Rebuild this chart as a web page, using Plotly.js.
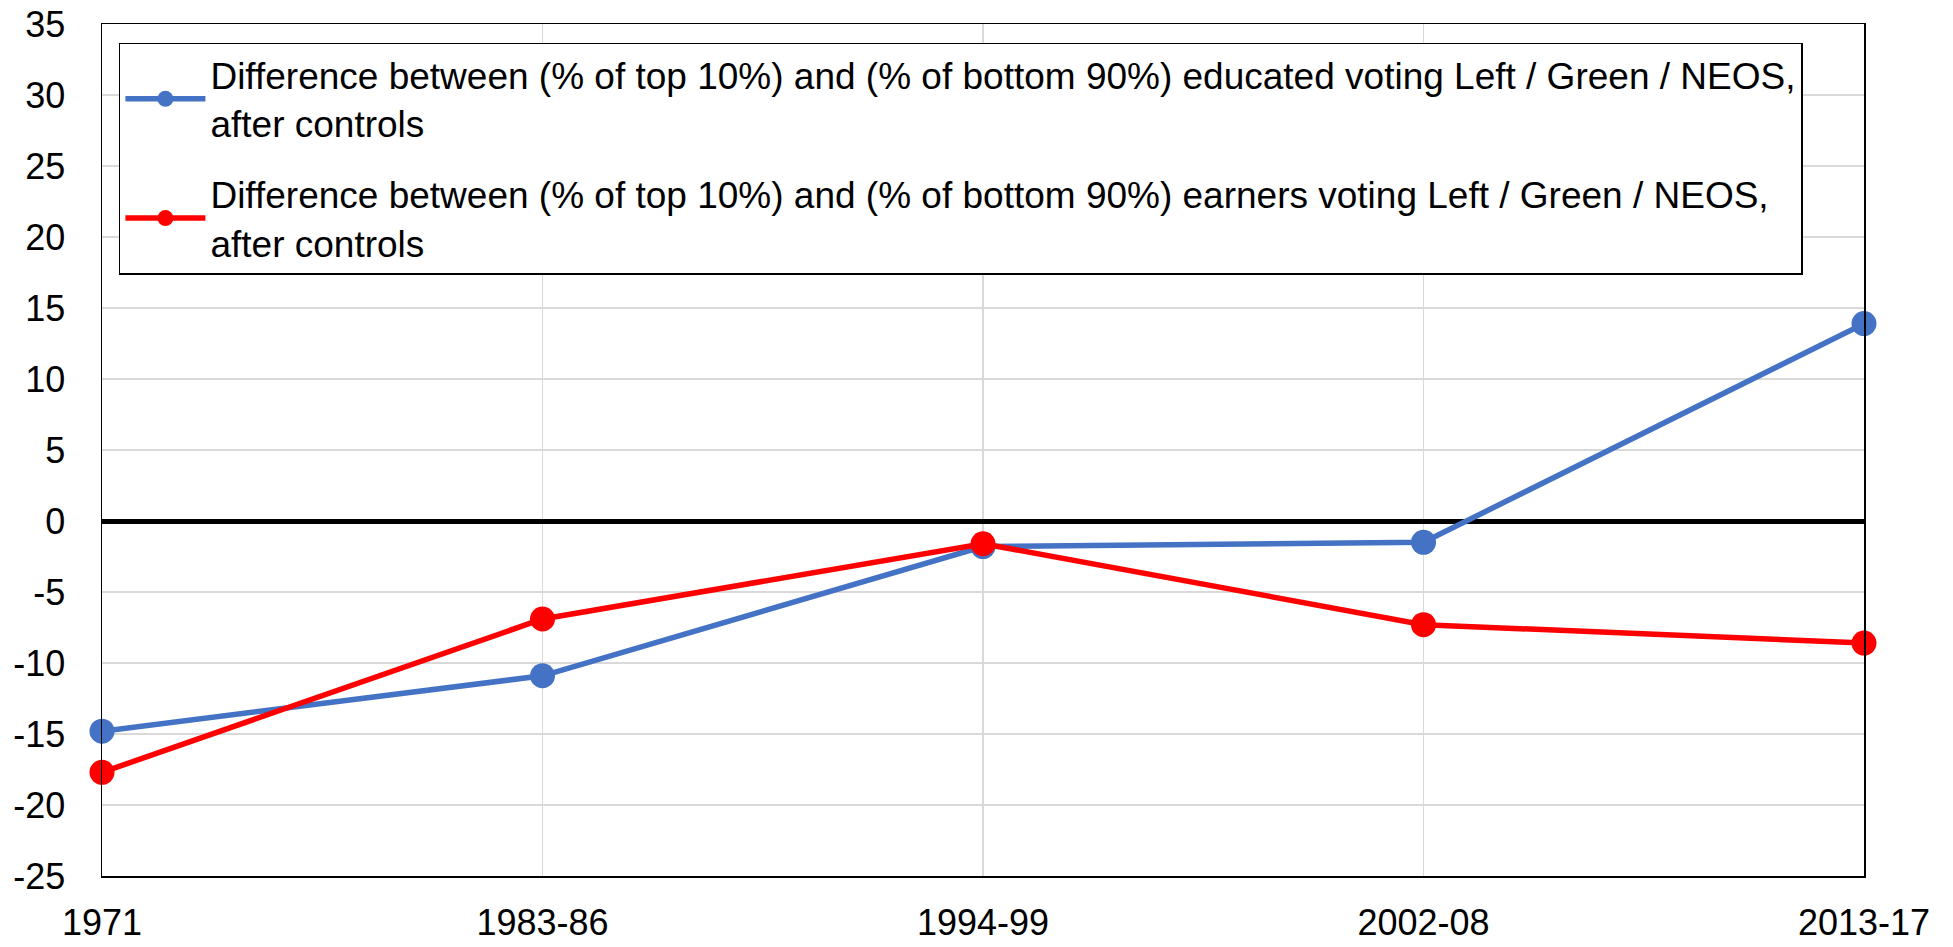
<!DOCTYPE html>
<html>
<head>
<meta charset="utf-8">
<script src="https://cdn.plot.ly/plotly-3.0.1.min.js"></script>
<style>
  html, body { margin: 0; padding: 0; background: #fff; }
  #chart { width: 1953px; height: 947px; }
</style>
</head>
<body>
<div id="chart"></div>
<script>
// périodes électorales
var periodes = ['1971', '1983-86', '1994-99', '2002-08', '2013-17'];

// écart diplômés (top 10% vs bottom 90%)
var ecartDiplomes = [-14.8, -10.9, -1.8, -1.5, 13.9];
// écart revenus (top 10% vs bottom 90%)
var ecartRevenus = [-17.7, -6.9, -1.6, -7.3, -8.6];

// graduations de l'axe Y
var graduationsY = [-25, -20, -15, -10, -5, 0, 5, 10, 15, 20, 25, 30, 35];

var nomDiplomes = 'Difference between (% of top 10%) and (% of bottom 90%) educated voting Left / Green / NEOS,<br>after controls';
var nomRevenus = 'Difference between (% of top 10%) and (% of bottom 90%) earners voting Left / Green / NEOS,<br>after controls';

var police = 'Liberation Sans, Arial, sans-serif';

var trace1 = {
    x: periodes,
    y: ecartDiplomes,
    type: 'scatter',
    mode: 'lines+markers',
    name: nomDiplomes,
    legendgroup: 'a',
    line: { color: '#4472C4', width: 5.5 },
    marker: { color: '#4472C4', size: 25 },
    cliponaxis: false
};

var trace2 = {
    x: periodes,
    y: ecartRevenus,
    type: 'scatter',
    mode: 'lines+markers',
    name: nomRevenus,
    legendgroup: 'b',
    line: { color: '#FF0000', width: 5.5 },
    marker: { color: '#FF0000', size: 25 },
    cliponaxis: false
};

var layout = {
    width: 1953,
    height: 947,
    margin: { l: 102, r: 89, t: 24, b: 71 },
    paper_bgcolor: '#fff',
    plot_bgcolor: '#fff',
    font: { family: police, size: 36, color: '#000' },
    showlegend: true,
    legend: {
        x: 0.0096, y: 0.978, xanchor: 'left', yanchor: 'top',
        bgcolor: '#fff', bordercolor: '#000', borderwidth: 1.5,
        font: { family: police, size: 37, color: '#000' },
        itemwidth: 80,
        tracegroupgap: 20
    },
    xaxis: {
        type: 'category',
        range: [0, 4],
        showgrid: true,
        gridcolor: '#d9d9d9',
        gridwidth: 1.5,
        showline: true,
        linecolor: '#000',
        linewidth: 1.5,
        mirror: true,
        ticks: '',
        ticklabelstandoff: 14,
        zeroline: false
    },
    yaxis: {
        range: [-25, 35],
        tickvals: graduationsY,
        ticktext: graduationsY.map(String),
        showgrid: true,
        gridcolor: '#d9d9d9',
        gridwidth: 1.5,
        showline: true,
        linecolor: '#000',
        linewidth: 1.5,
        mirror: true,
        ticks: '',
        ticklabelstandoff: 28,
        zeroline: true,
        zerolinecolor: '#000',
        zerolinewidth: 5
    }
};

Plotly.newPlot('chart', [trace1, trace2], layout, { displayModeBar: false, staticPlot: true });
</script>
</body>
</html>
